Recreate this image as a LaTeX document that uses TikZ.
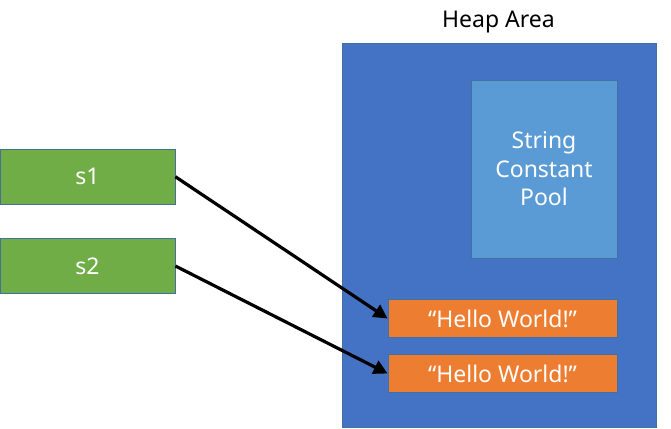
\documentclass[tikz,border=0pt]{standalone}
\usepackage{fontspec}
\setmainfont{Noto Sans}
\usetikzlibrary{arrows.meta}
\definecolor{heapblue}{HTML}{4472C4}
\definecolor{poolblue}{HTML}{5B9BD5}
\definecolor{strorange}{HTML}{ED7D31}
\definecolor{refgreen}{HTML}{70AD47}
\definecolor{edgeblue}{HTML}{41719C}
\tikzset{
  boxbase/.style={draw=edgeblue, line width=0.8pt, inner sep=0pt, text=white, align=center},
  refbox/.style={boxbase, fill=refgreen, minimum width=175pt, minimum height=55pt, font=\fontsize{23}{27}\selectfont},
  strbox/.style={boxbase, fill=strorange, minimum width=229pt, minimum height=38pt, font=\fontsize{23}{27}\selectfont},
  link/.style={line width=3.2pt, -{Triangle[length=14pt,width=14pt]}},
}
\begin{document}
\begin{tikzpicture}[x=1pt,y=-1pt]
\useasboundingbox (0,0) rectangle (671,428);
\node[text=black, font=\fontsize{23}{27}\selectfont] (title) at (498.5,22) {Heap Area};
\node[boxbase, fill=heapblue, minimum width=314pt, minimum height=384pt] (heap) at (499,235) {};
\node[boxbase, fill=poolblue, minimum width=146pt, minimum height=178pt, font=\fontsize{23}{28.5}\selectfont] (pool) at (544,169) {String\\Constant\\Pool};
\node[strbox] (o1) at (502.5,318.5) {“Hello World!”};
\node[strbox] (o2) at (502.5,373.5) {“Hello World!”};
\node[refbox] (s1) at (87.5,176.75) {s1};
\node[refbox] (s2) at (87.5,266) {s2};
\draw[link] (s1.east) -- (o1.west);
\draw[link] (s2.east) -- (o2.west);
\end{tikzpicture}
\end{document}
